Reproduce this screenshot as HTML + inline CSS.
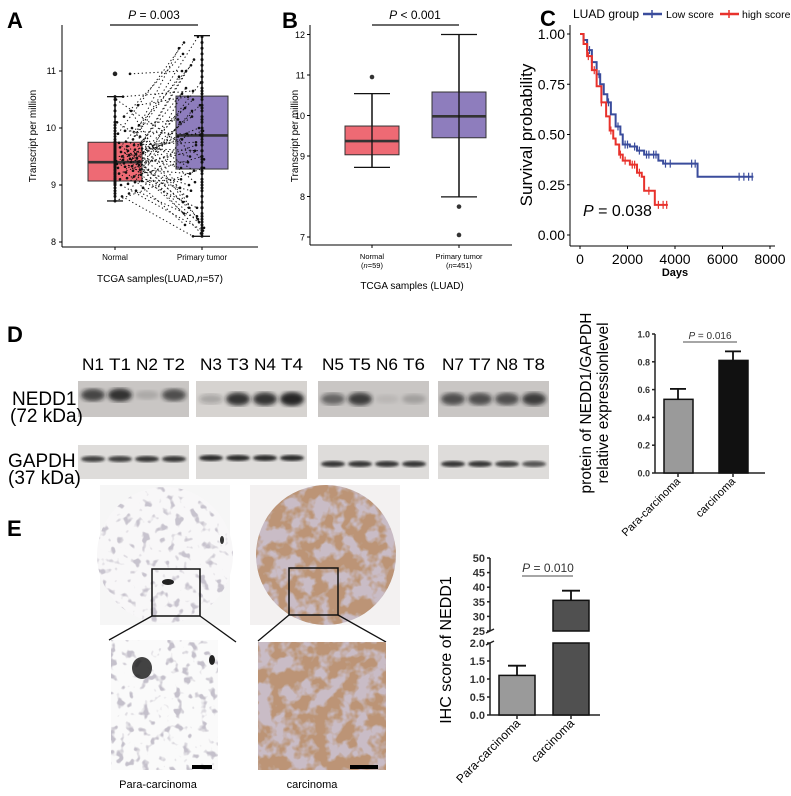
<!DOCTYPE html>
<html><head><meta charset="utf-8"><style>
html,body{margin:0;padding:0;background:#fff;}
svg{display:block;font-family:"Liberation Sans",Arial,sans-serif;}
</style></head><body>
<svg id="fig" width="791" height="796" viewBox="0 0 791 796" xmlns="http://www.w3.org/2000/svg">
<defs>
<filter id="blur2"><feGaussianBlur stdDeviation="2.2"/></filter>
<filter id="blur1"><feGaussianBlur stdDeviation="1.2"/></filter>
<filter id="brownTex" x="0" y="0" width="100%" height="100%">
<feTurbulence type="fractalNoise" baseFrequency="0.07" numOctaves="3" seed="4"/>
<feColorMatrix type="matrix" values="0 0 0 0 0.50  0 0 0 0 0.30  0 0 0 0 0.18  -5 0 0 0 3.1"/>
<feComposite in2="SourceGraphic" operator="in"/>
</filter>
<filter id="grayTex" x="0" y="0" width="100%" height="100%">
<feTurbulence type="fractalNoise" baseFrequency="0.12" numOctaves="2" seed="9"/>
<feColorMatrix type="matrix" values="0 0 0 0 0.45  0 0 0 0 0.42  0 0 0 0 0.5  0 0 0 -7 3.0"/>
<feComposite in2="SourceGraphic" operator="in"/>
</filter>
<clipPath id="cl1"><circle cx="165" cy="555" r="68"/></clipPath>
<clipPath id="cl2"><circle cx="326" cy="555" r="70"/></clipPath>
</defs>

<text x="7" y="28" font-size="22" font-weight="bold">A</text>
<text x="282" y="28" font-size="22" font-weight="bold">B</text>
<text x="540" y="26" font-size="22" font-weight="bold">C</text>
<text x="7" y="342" font-size="22" font-weight="bold">D</text>
<text x="7" y="536" font-size="22" font-weight="bold">E</text>

<g id="panelA"></g>
<g id="panelB"></g>
<g id="panelC"></g>
<g id="panelD"></g>
<g id="panelDbar"></g>
<g id="panelE"></g>
<g id="panelEbar"></g>
</svg>
<script>
// ---------- DATA ----------
const aNormalVals = [8.72,8.8,8.85,8.9,8.95,9.0,9.02,9.05,9.07,9.1,9.12,9.15,9.18,9.2,9.22,9.25,9.27,9.3,9.32,9.33,9.35,9.37,9.38,9.4,9.41,9.42,9.44,9.46,9.47,9.48,9.5,9.52,9.54,9.56,9.58,9.6,9.62,9.64,9.66,9.68,9.7,9.72,9.74,9.76,9.8,9.85,9.9,9.95,10.0,10.05,10.1,10.2,10.3,10.4,10.5,10.55,10.95];
const aTumorVals = [9.3,8.1,10.6,8.4,9.9,8.2,10.3,9.1,8.6,11.0,9.5,8.9,10.1,9.7,8.3,10.8,9.2,11.4,9.6,8.5,10.4,9.0,9.85,11.2,8.7,10.0,9.4,8.25,10.5,9.8,11.6,8.8,9.95,10.2,9.3,8.45,10.7,9.6,11.1,8.95,9.75,10.35,8.15,9.5,10.9,9.05,11.5,9.88,8.6,10.15,9.25,11.3,8.35,10.55,9.45,10.65,11.0];
const aStats = {normal:[8.72,9.07,9.4,9.75,10.55],tumor:[8.1,9.28,9.87,10.56,11.62]};
const aOutliers = [10.95];
const aTicks = [8,9,10,11];
const bNormalStats = [8.72,9.03,9.37,9.74,10.54];
const bTumorStats = [7.99,9.45,9.98,10.58,12.0];
const bNormalOut = [10.95];
const bTumorOut = [7.75,7.05];
const bTicks = [7,8,9,10,11,12];
const cLowT = [0,150,300,500,700,850,1000,1150,1300,1500,1700,1800,2100,2400,2700,3000,3300,3500,4000,4900,4950,6500,7300];
const cLowS = [1,0.97,0.92,0.86,0.80,0.75,0.70,0.66,0.60,0.54,0.50,0.45,0.44,0.42,0.40,0.40,0.37,0.355,0.355,0.355,0.29,0.29,0.29];
const cHighT = [0,150,300,500,700,900,1100,1250,1400,1500,1650,1800,2100,2400,2600,2700,3000,3150,3700];
const cHighS = [1,0.95,0.89,0.82,0.74,0.66,0.59,0.52,0.48,0.45,0.40,0.37,0.35,0.31,0.29,0.22,0.22,0.15,0.15];
const cLowCensor = [400,800,1200,1600,1900,2000,2300,2500,2800,2900,3100,3200,3600,3800,4700,4850,6700,6900,7100,7250];
const cHighCensor = [350,600,900,1300,1700,1900,2200,2300,2500,2900,3300,3500,3650];
const cXTicks = [0,2000,4000,6000,8000];
const cYTicks = [0,0.25,0.5,0.75,1.0];
const dLaneLabels = [["N1","T1","N2","T2"],["N3","T3","N4","T4"],["N5","T5","N6","T6"],["N7","T7","N8","T8"]];
const dNeddIntensity = [[0.75,0.85,0.15,0.7],[0.25,0.85,0.85,0.95],[0.55,0.8,0.08,0.2],[0.7,0.7,0.7,0.8]];
const dGapdhIntensity = [[0.8,0.8,0.85,0.85],[0.9,0.9,0.9,0.9],[0.85,0.85,0.85,0.85],[0.85,0.85,0.8,0.7]];
const dBarCats = ["Para-carcinoma","carcinoma"];
const dBarVals = [0.53,0.81];
const dBarErr = [0.075,0.065];
const dBarTicks = [0,0.2,0.4,0.6,0.8,1.0];
const eBarCats = ["Para-carcinoma","carcinoma"];
const eBarVals = [1.1,35.5];
const eBarErr = [0.27,3.3];
const eLowTicks = [0,0.5,1.0,1.5,2.0];
const eHighTicks = [25,30,35,40,45,50];

// ---------- HELPERS ----------
const NS="http://www.w3.org/2000/svg";
function mk(parent,tag,attrs,text){const e=document.createElementNS(NS,tag);for(const k in attrs)e.setAttribute(k,attrs[k]);if(text!==undefined)e.textContent=text;parent.appendChild(e);return e;}
function line(p,x1,y1,x2,y2,st,w){return mk(p,"line",{x1,y1,x2,y2,stroke:st||"#000","stroke-width":w||1});}
function txt(p,x,y,s,size,anchor,extra){const a=Object.assign({x,y,"font-size":size,"text-anchor":anchor||"start"},extra||{});return mk(p,"text",a,s);}

function boxplot(g,x,hw,stats,ys,fill,capHw){
  const wh=line(g,x,ys(stats[0]),x,ys(stats[4]),"#111",1.3);
  
  
  line(g,x-capHw,ys(stats[0]),x+capHw,ys(stats[0]),"#111",1.3);
  line(g,x-capHw,ys(stats[4]),x+capHw,ys(stats[4]),"#111",1.3);
  const r=mk(g,"rect",{x:x-hw,y:ys(stats[3]),width:2*hw,height:ys(stats[1])-ys(stats[3]),fill:fill,stroke:"#333","stroke-width":1});
  
  
  line(g,x-hw,ys(stats[2]),x+hw,ys(stats[2]),"#333",2.6);
  return r;
}

// ---------- PANEL A ----------
(function(){
  const g=document.getElementById("panelA");
  const ys=v=>242-57*(v-8);
  const xN=115,xT=202;
  line(g,62,25,62,247);line(g,62,247,258,247);
  aTicks.forEach(t=>{line(g,59,ys(t),62,ys(t));const l=txt(g,56,ys(t)+3,String(t),9,"end");
    
    });
  line(g,xN,247,xN,250);line(g,xT,247,xT,250);
  boxplot(g,xN,27,aStats.normal,ys,"#ee6a74",8);
  boxplot(g,xT,26,aStats.tumor,ys,"#8e7dbd",8);
  line(g,xN,ys(aStats.normal[0]),xN,ys(aStats.normal[4]),"#111",1.3);
  line(g,xT,ys(aStats.tumor[0]),xT,ys(aStats.tumor[4]),"#111",1.3);
  aNormalVals.forEach((v,i)=>{
    const jn=(i*7)%29, jt=(i*11)%27;
    const x1=xN+jn, x2=xT-jt+2;
    const ln=mk(g,"line",{x1:x1,y1:ys(v),x2:x2,y2:ys(aTumorVals[i]),stroke:"#111","stroke-width":1,"stroke-dasharray":"1.3 2.6"});
    
    
    const p1=mk(g,"circle",{cx:x1,cy:ys(v),r:1.3,fill:"#111"});
    
    
    const p2=mk(g,"circle",{cx:x2,cy:ys(aTumorVals[i]),r:1.3,fill:"#111"});
    
    
    const p3=mk(g,"circle",{cx:xT,cy:ys(aTumorVals[i]),r:1.5,fill:"#111"});
    
    
    const p4=mk(g,"circle",{cx:xN,cy:ys(v),r:1.5,fill:"#111"});
    
    
  });
  aOutliers.forEach(v=>{const o=mk(g,"circle",{cx:xN,cy:ys(v),r:2.3,fill:"#222"});
    
    });
  line(g,110,25,198,25,"#111",1.2);
  const pt=mk(g,"text",{x:154,y:19,"font-size":12,"text-anchor":"middle"});
  
  
  pt.innerHTML='<tspan font-style="italic">P</tspan> = 0.003';
  txt(g,xN,260,"Normal",8,"middle");txt(g,xT,260,"Primary tumor",8,"middle");
  const yt=txt(g,0,0,"Transcript per million",10,"middle",{transform:"translate(36,136) rotate(-90)"});
  
  
  const xt=mk(g,"text",{x:160,y:282,"font-size":10,"text-anchor":"middle"});
  xt.innerHTML='TCGA samples(LUAD,<tspan font-style="italic">n</tspan>=57)';
  
  
})();

// ---------- PANEL B ----------
(function(){
  const g=document.getElementById("panelB");
  const ys=v=>237-40.5*(v-7);
  const xN=372,xT=459;
  line(g,310,25,310,245);line(g,310,245,512,245);
  bTicks.forEach(t=>{line(g,307,ys(t),310,ys(t));const l=txt(g,305,ys(t)+3.5,String(t),9,"end");
    
    });
  line(g,xN,245,xN,248);line(g,xT,245,xT,248);
  boxplot(g,xN,27,bNormalStats,ys,"#ee6a74",18);
  boxplot(g,xT,27,bTumorStats,ys,"#8e7dbd",18);
  line(g,xN,ys(bNormalStats[0]),xN,ys(bNormalStats[4]),"#111",1.3);
  line(g,xT,ys(bTumorStats[0]),xT,ys(bTumorStats[4]),"#111",1.3);
  bNormalOut.forEach(v=>{const o=mk(g,"circle",{cx:xN,cy:ys(v),r:2.3,fill:"#333"});
    
    });
  bTumorOut.forEach(v=>{const o=mk(g,"circle",{cx:xT,cy:ys(v),r:2.3,fill:"#333"});
    
    });
  line(g,xN,25,xT,25,"#111",1.2);
  const pt=mk(g,"text",{x:415,y:19,"font-size":12,"text-anchor":"middle"});
  pt.innerHTML='<tspan font-style="italic">P</tspan> &lt; 0.001';
  
  
  txt(g,xN,259,"Normal",7.5,"middle");
  const n1=mk(g,"text",{x:xN,y:268,"font-size":7.5,"text-anchor":"middle"});n1.innerHTML='(<tspan font-style="italic">n</tspan>=59)';
  txt(g,xT,259,"Primary tumor",7.5,"middle");
  const n2=mk(g,"text",{x:xT,y:268,"font-size":7.5,"text-anchor":"middle"});n2.innerHTML='(<tspan font-style="italic">n</tspan>=451)';
  const yt=txt(g,0,0,"Transcript per million",10,"middle",{transform:"translate(298,136) rotate(-90)"});
  
  
  const xt=txt(g,412,289,"TCGA samples (LUAD)",10,"middle");
  
  
})();

// ---------- PANEL C ----------
(function(){
  const g=document.getElementById("panelC");
  const xs=t=>580+t*0.02375;
  const ys=s=>235-201*s;
  line(g,570,25,570,246);line(g,570,246,775,246);
  cYTicks.forEach(t=>{line(g,567,ys(t),570,ys(t));const l=txt(g,565,ys(t)+5,t.toFixed(2),14,"end");
    
    });
  cXTicks.forEach(t=>{line(g,xs(t),246,xs(t),249);const l=txt(g,xs(t),264,String(t),14,"middle");
    
    });
  function step(T,S,col,name){
    let d="M"+xs(T[0])+","+ys(S[0]);
    for(let i=1;i<T.length;i++){d+=" H"+xs(T[i])+" V"+ys(S[i]);}
    const p=mk(g,"path",{d:d,fill:"none",stroke:col,"stroke-width":2});
    
    
  }
  function survAt(T,S,t){let s=S[0];for(let i=0;i<T.length;i++){if(T[i]<=t)s=S[i];}return s;}
  step(cLowT,cLowS,"#3a4c9c","low-score-curve");
  step(cHighT,cHighS,"#e8322c","high-score-curve");
  cLowCensor.forEach(t=>{const y=ys(survAt(cLowT,cLowS,t));const c=line(g,xs(t),y-4,xs(t),y+4,"#3a4c9c",1.2);
    
    });
  cHighCensor.forEach(t=>{const y=ys(survAt(cHighT,cHighS,t));const c=line(g,xs(t),y-4,xs(t),y+4,"#e8322c",1.2);
    
    });
  const pt=mk(g,"text",{x:583,y:216,"font-size":16});
  pt.innerHTML='<tspan font-style="italic">P</tspan> = 0.038';
  
  
  const yt=txt(g,0,0,"Survival probability",17,"middle",{transform:"translate(532,135) rotate(-90)"});
  
  
  const xt=txt(g,675,276,"Days",11,"middle",{"font-weight":"bold"});
  
  
  const lg=mk(g,"g",{});
  
  
  txt(lg,573,18,"LUAD group",12,"start");
  line(lg,643,14,662,14,"#3a4c9c",2.5);line(lg,652,10,652,18,"#3a4c9c",1.5);
  const e1=txt(lg,666,18,"Low score",10.5,"start");
  
  
  line(lg,720,14,739,14,"#e8322c",2.5);line(lg,729,10,729,18,"#e8322c",1.5);
  const e2=txt(lg,742,18,"high score",10.5,"start");
  
  
})();

// ---------- PANEL D BLOTS ----------
(function(){
  const g=document.getElementById("panelD");
  const blotX=[78,196,318,438];
  const bw=111;
  blotX.forEach((bx,k)=>{
    const grp=mk(g,"g",{});
    
    
    mk(grp,"rect",{x:bx,y:381,width:bw,height:36,fill:k===1?"#d6d3d0":"#c9c6c4"});
    mk(grp,"rect",{x:bx,y:445,width:bw,height:34,fill:"#dedcda"});
    for(let j=0;j<4;j++){
      const cx=bx+15+j*27;
      const lbl=txt(g,cx,370,dLaneLabels[k][j],17,"middle",{"textLength":"22","lengthAdjust":"spacingAndGlyphs"});
      
      
      const a=dNeddIntensity[k][j];
      const b1=mk(grp,"ellipse",{cx:cx,cy:k===0?395:399,rx:12,ry:4+3*a,fill:"#1a1a1a","fill-opacity":a,filter:"url(#blur2)"});
      
      
      const c=dGapdhIntensity[k][j];
      const b2=mk(grp,"ellipse",{cx:cx,cy:k===1?458:(k===0?459:464),rx:12,ry:3,fill:"#1a1a1a","fill-opacity":c,filter:"url(#blur1)"});
      
      
    }
  });
  txt(g,12,405,"NEDD1",19,"start");
  txt(g,10,422,"(72 kDa)",19,"start");
  txt(g,8,467,"GAPDH",19,"start");
  txt(g,8,484,"(37 kDa)",19,"start");
})();

// ---------- PANEL D BAR ----------
(function(){
  const g=document.getElementById("panelDbar");
  const ys=v=>473-139*v;
  const xc=[678,733];
  const cols=["#9a9a9a","#111"];
  line(g,655,334,655,473,"#222",1.5);line(g,655,473,765,473,"#222",1.5);
  dBarTicks.forEach(t=>{line(g,652,ys(t),655,ys(t),"#222",1.5);const l=txt(g,650,ys(t)+3.5,t.toFixed(1),9,"end",{"font-weight":"bold","fill":"#333"});
    
    });
  dBarVals.forEach((v,i)=>{
    line(g,xc[i],ys(v),xc[i],ys(v+dBarErr[i]),"#111",1.8);
    line(g,xc[i]-8,ys(v+dBarErr[i]),xc[i]+8,ys(v+dBarErr[i]),"#111",1.8);
    const r=mk(g,"rect",{x:xc[i]-14,y:ys(v),width:29,height:473-ys(v),fill:cols[i],stroke:"#111","stroke-width":1.5});
    
    
    line(g,xc[i],473,xc[i],477,"#222",1.5);
    const l=txt(g,0,0,dBarCats[i],11,"end",{transform:`translate(${xc[i]+3},${482}) rotate(-45)`});
    
    
  });
  line(g,683,342,737,342,"#888",1.5);
  const pt=mk(g,"text",{x:710,y:339,"font-size":10,"text-anchor":"middle","fill":"#333"});
  pt.innerHTML='<tspan font-style="italic">P</tspan> = 0.016';
  
  
  const t1=txt(g,0,0,"protein of NEDD1/GAPDH",15.5,"middle",{transform:"translate(591,403) rotate(-90)"});
  
  
  const t2=txt(g,0,0,"relative expressionlevel",15.5,"middle",{transform:"translate(608,403) rotate(-90)"});
  
  
})();

// ---------- PANEL E IMAGES ----------
(function(){
  const g=document.getElementById("panelE");
  mk(g,"rect",{x:100,y:485,width:130,height:140,fill:"#f6f6f6"});
  const c1=mk(g,"circle",{cx:165,cy:555,r:68,fill:"#f8f7f8"});
  
  
  mk(g,"rect",{x:95,y:485,width:140,height:140,fill:"#fff","clip-path":"url(#cl1)",filter:"url(#grayTex)","opacity":"0.7"});
  mk(g,"ellipse",{cx:168,cy:582,rx:6,ry:3,fill:"#222"});mk(g,"ellipse",{cx:222,cy:540,rx:2,ry:4,fill:"#333"});
  mk(g,"rect",{x:250,y:485,width:150,height:140,fill:"#f3f1f1"});
  const c2=mk(g,"circle",{cx:326,cy:555,r:70,fill:"#c9bcc6"});
  
  
  mk(g,"rect",{x:255,y:484,width:142,height:142,fill:"#fff","clip-path":"url(#cl2)",filter:"url(#brownTex)"});
  const z1=mk(g,"rect",{x:152,y:569,width:48,height:47,fill:"none",stroke:"#111","stroke-width":1.5});
  
  
  const z2=mk(g,"rect",{x:289,y:568,width:49,height:47,fill:"none",stroke:"#111","stroke-width":1.5});
  
  
  line(g,152,616,109,640,"#111",1.3);line(g,200,616,236,642,"#111",1.3);
  line(g,289,615,258,641,"#111",1.3);line(g,338,615,386,642,"#111",1.3);
  const i1=mk(g,"rect",{x:111,y:640,width:107,height:130,fill:"#fafafa"});
  
  
  mk(g,"rect",{x:111,y:640,width:107,height:130,fill:"#fff",filter:"url(#grayTex)","opacity":"0.75"});
  mk(g,"ellipse",{cx:142,cy:668,rx:10,ry:11,fill:"#222","opacity":"0.85"});
  mk(g,"ellipse",{cx:212,cy:660,rx:3,ry:5,fill:"#222"});
  const i2=mk(g,"rect",{x:258,y:642,width:128,height:128,fill:"#c9bcc6"});
  
  
  mk(g,"rect",{x:258,y:642,width:128,height:128,fill:"#fff",filter:"url(#brownTex)"});
  line(g,192,767,212,767,"#000",4);
  line(g,350,767,378,767,"#000",4);
  const l1=txt(g,158,788,"Para-carcinoma",11,"middle");
  
  
  const l2=txt(g,312,788,"carcinoma",11,"middle");
  
  
})();

// ---------- PANEL E BAR ----------
(function(){
  const g=document.getElementById("panelEbar");
  const yHi=v=>631-(v-25)*(73/25);
  const yLo=v=>715-36*v;
  const xc=[517,571];
  const cols=["#9a9a9a","#505050"];
  line(g,490,558,490,631,"#222",1.5);line(g,490,643,490,715,"#222",1.5);
  line(g,490,715,600,715,"#222",1.5);
  line(g,486,633,494,629,"#222",1.5);line(g,486,645,494,641,"#222",1.5);
  eHighTicks.forEach(t=>{line(g,487,yHi(t),490,yHi(t),"#222",1.5);const l=txt(g,485,yHi(t)+4,String(t),11,"end",{"font-weight":"bold","fill":"#333"});
    
    });
  eLowTicks.forEach(t=>{line(g,487,yLo(t),490,yLo(t),"#222",1.5);const l=txt(g,485,yLo(t)+4,t.toFixed(1),11,"end",{"font-weight":"bold","fill":"#333"});
    
    });
  eBarVals.forEach((v,i)=>{
    const hi=v>2;
    const sc=hi?yHi:yLo;
    line(g,xc[i],sc(v),xc[i],sc(v+eBarErr[i]),"#111",1.8);
    line(g,xc[i]-9,sc(v+eBarErr[i]),xc[i]+9,sc(v+eBarErr[i]),"#111",1.8);
    if(hi){
      const r1=mk(g,"rect",{x:xc[i]-18,y:yHi(v),width:36,height:631-yHi(v),fill:cols[i],stroke:"#111","stroke-width":1.5});
      
      
      const r2=mk(g,"rect",{x:xc[i]-18,y:643,width:36,height:72,fill:cols[i],stroke:"#111","stroke-width":1.5});
      
      
    } else {
      const r=mk(g,"rect",{x:xc[i]-18,y:yLo(v),width:36,height:715-yLo(v),fill:cols[i],stroke:"#111","stroke-width":1.5});
      
      
    }
    line(g,xc[i],715,xc[i],719,"#222",1.5);
    const l=txt(g,0,0,eBarCats[i],12,"end",{transform:`translate(${xc[i]+4},${724}) rotate(-45)`});
    
    
  });
  line(g,522,576,573,576,"#888",1.5);
  const pt=mk(g,"text",{x:548,y:572,"font-size":12,"text-anchor":"middle","fill":"#333"});
  pt.innerHTML='<tspan font-style="italic">P</tspan> = 0.010';
  
  
  const yt=txt(g,0,0,"IHC score of NEDD1",16,"middle",{transform:"translate(451,650) rotate(-90)"});
  
  
})();
</script>
</body></html>
